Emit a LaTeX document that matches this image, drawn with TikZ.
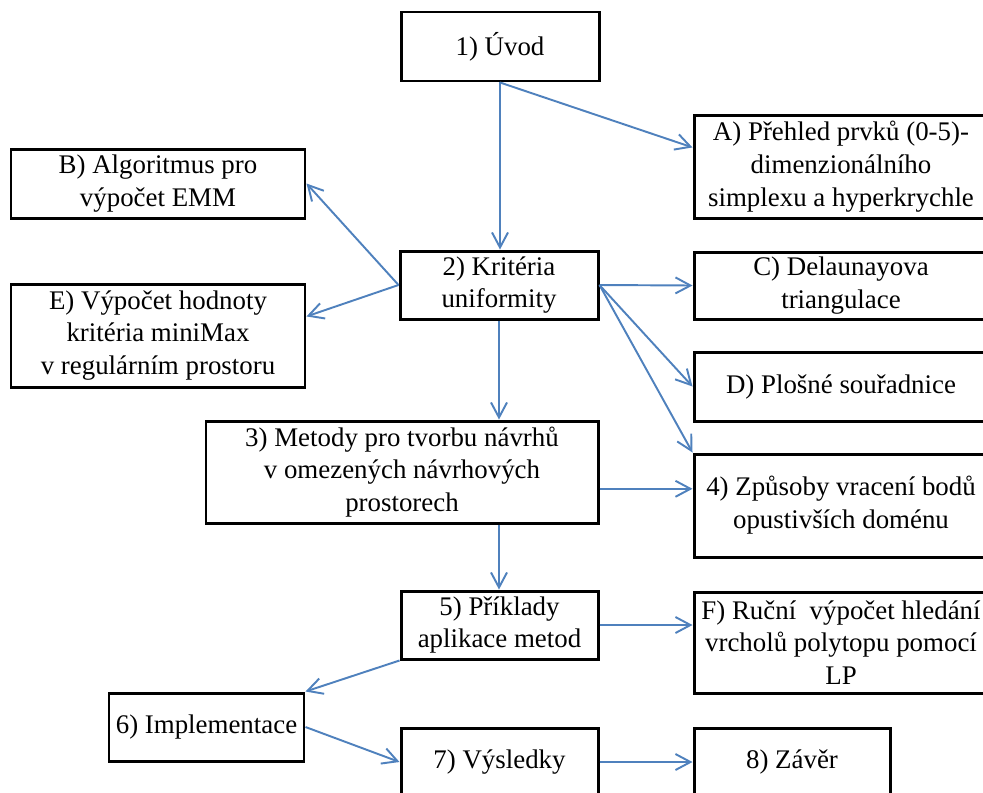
\documentclass[tikz,border=0pt]{standalone}
\usepackage{fontspec}
\setmainfont{Liberation Serif}
\usetikzlibrary{arrows.meta,calc}
\definecolor{arrowblue}{RGB}{79,129,189}
\tikzset{
  box/.style={draw=black, line width=1.7pt, align=center, inner sep=0pt,
    font=\fontsize{15.3}{18.7}\selectfont},
  conn/.style={draw=arrowblue, line width=1.1pt,
    -{Straight Barb[length=0.3cm,width=0.32cm,line width=1.1pt]}}
}
\begin{document}
\begin{tikzpicture}[x=0.02cm,y=-0.02cm]
\path[use as bounding box] (0,0) rectangle (983,792);
\clip (0,0) rectangle (983,792);
% nodes
\node[box, minimum width=198*0.02cm, minimum height=69*0.02cm] (n1) at (500,46.5) {1) Úvod};
\node[box, minimum width=294*0.02cm, minimum height=103*0.02cm] (nA) at (841,166.5) {A) Přehled prvků (0-5)-\\dimenzionálního\\simplexu a hyperkrychle};
\node[box, minimum width=294*0.02cm, minimum height=69*0.02cm] (nB) at (158,183.5) {B) Algoritmus pro\\výpočet EMM};
\node[box, minimum width=198*0.02cm, minimum height=68*0.02cm] (n2) at (499,285) {2) Kritéria\\uniformity};
\node[box, minimum width=294*0.02cm, minimum height=67*0.02cm] (nC) at (841,285.5) {C) Delaunayova\\triangulace};
\node[box, minimum width=294*0.02cm, minimum height=103*0.02cm] (nE) at (158,335.5) {E) Výpočet hodnoty\\kritéria miniMax\\v regulárním prostoru};
\node[box, minimum width=294*0.02cm, minimum height=69*0.02cm] (nD) at (841,386.5) {D) Plošné souřadnice};
\node[box, minimum width=392*0.02cm, minimum height=102*0.02cm] (n3) at (402,472) {3) Metody pro tvorbu návrhů\\v omezených návrhových\\prostorech};
\node[box, minimum width=294*0.02cm, minimum height=103*0.02cm] (n4) at (841,505.5) {4) Způsoby vracení bodů\\opustivších doménu};
\node[box, minimum width=197*0.02cm, minimum height=68*0.02cm] (n5) at (499.5,625) {5) Příklady\\aplikace metod};
\node[box, minimum width=294*0.02cm, minimum height=101*0.02cm] (nF) at (841,642.5) {F) Ruční~ výpočet hledání\\vrcholů polytopu pomocí\\LP};
\node[box, minimum width=195*0.02cm, minimum height=68*0.02cm] (n6) at (206.5,727) {6) Implementace};
\node[box, minimum width=197*0.02cm, minimum height=68*0.02cm] (n7) at (499.5,762) {7) Výsledky};
\node[box, minimum width=196*0.02cm, minimum height=68*0.02cm] (n8) at (792,762) {8) Závěr};
% helper coordinates
\coordinate (aIn) at ($(nA.north west)!0.32!(nA.south west)$);
\coordinate (eIn) at ($(nE.north east)!0.32!(nE.south east)$);
\coordinate (s3) at ($(n3.north east)!0.66!(n3.south east)$);
% connectors
\draw[conn] (n1.south) -- (n1.south |- n2.north);
\draw[conn] (n1.south) -- (aIn);
\draw[conn] (n2.west) -- (nB.east);
\draw[conn] (n2.west) -- (eIn);
\draw[conn] (n2.east) -- (nC.west);
\draw[conn] (n2.east) -- (nD.west);
\draw[conn] (n2.east) -- (n4.north west);
\draw[conn] (n2.south) -- (n2.south |- n3.north);
\draw[conn] (s3) -- (s3 -| n4.west);
\draw[conn] (n2.south |- n3.south) -- (n2.south |- n5.north);
\draw[conn] (n5.east) -- (n5.east -| nF.west);
\draw[conn] (n5.south west) -- (n6.north east);
\draw[conn] (n6.east) -- (n7.west);
\draw[conn] (n7.east) -- (n8.west);
\end{tikzpicture}
\end{document}
